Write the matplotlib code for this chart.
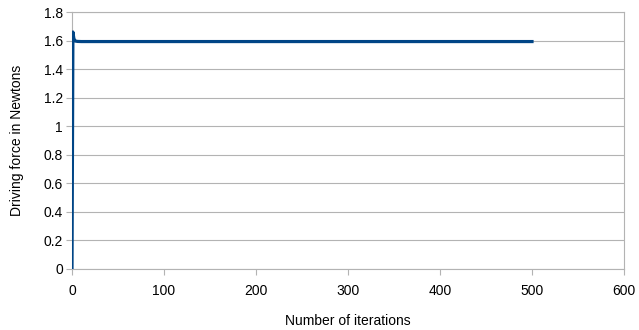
import matplotlib
matplotlib.use("Agg")
import matplotlib.pyplot as plt

iterations = [0, 1, 2, 3, 4, 6, 10, 20, 500]
force = [0.0, 1.66, 1.615, 1.6, 1.596, 1.594, 1.593, 1.593, 1.593]

x_ticks = [0, 100, 200, 300, 400, 500, 600]
y_ticks = [0, 0.2, 0.4, 0.6, 0.8, 1, 1.2, 1.4, 1.6, 1.8]
y_tick_labels = ["0", "0.2", "0.4", "0.6", "0.8", "1", "1.2", "1.4", "1.6", "1.8"]

plt.rcParams['font.family'] = ['Liberation Sans', 'DejaVu Sans']

fig = plt.figure(figsize=(6.39, 3.30), dpi=100)
L, R, T, B = 72, 624, 12, 269
ax = fig.add_axes([L/639, 1-B/330, (R-L)/639, (B-T)/330])

ax.plot(iterations, force, color='#004586', linewidth=2.3, solid_joinstyle='round', zorder=3)

ax.set_xlim(0, 600)
ax.set_ylim(0, 1.8)
ax.set_xticks(x_ticks)
ax.set_yticks(y_ticks)
ax.set_yticklabels(y_tick_labels)
ax.yaxis.grid(True, color='#b3b3b3', linewidth=0.8)
ax.set_axisbelow(True)
for s in ax.spines.values():
    s.set_color('#b3b3b3')
    s.set_linewidth(0.8)
ax.tick_params(axis='both', colors='#b3b3b3', labelcolor='black', labelsize=10, length=4, width=0.8, direction='out')
ax.tick_params(axis='x', pad=6.5)
ax.tick_params(axis='y', pad=2.5)

ax.set_xlabel('Number of iterations', fontsize=10, va='baseline')
ax.set_ylabel('Driving force in Newtons', fontsize=10, va='center')
ax.xaxis.set_label_coords(0.5, (B-325)/(B-T))
ax.yaxis.set_label_coords((17-L)/(R-L), 0.5)

fig.savefig('out.png', dpi=100)
